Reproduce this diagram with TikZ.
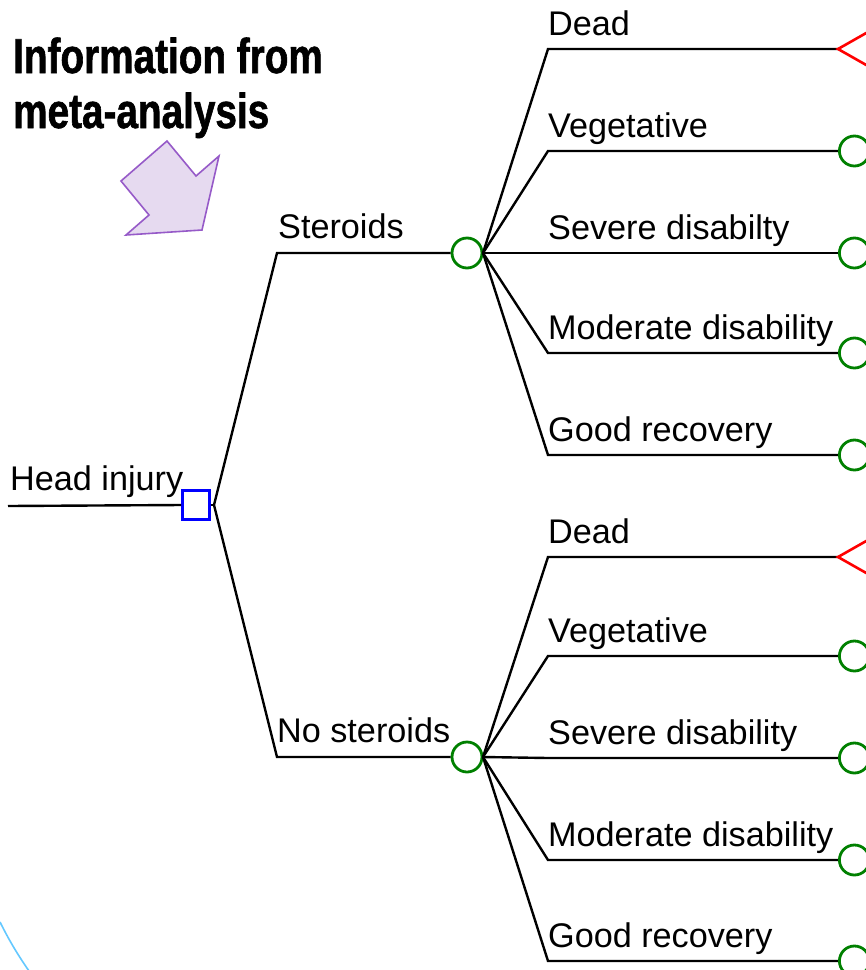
\documentclass[tikz,border=0pt]{standalone}
\usepackage{fontspec}
\setmainfont{Liberation Sans}
\newfontfamily\titlefont[FakeStretch=0.79,FakeBold=1.2]{Liberation Sans Bold}
\definecolor{chancegreen}{RGB}{0,128,0}
\definecolor{decblue}{RGB}{0,0,255}
\definecolor{termred}{RGB}{255,0,0}
\definecolor{arrowfill}{RGB}{230,218,240}
\definecolor{arrowline}{RGB}{150,90,200}
\definecolor{arccyan}{RGB}{100,200,255}
\begin{document}
\begin{tikzpicture}[x=1pt,y=-1pt,
  branch/.style={line width=2.4pt,black},
  lbl/.style={anchor=base west,inner sep=0pt,font=\fontsize{34.2}{38}\selectfont},
  chance/.style={circle,draw=chancegreen,line width=2.8pt,minimum width=28pt,minimum height=30pt,inner sep=0pt,fill=white},
  termc/.style={circle,draw=chancegreen,line width=2.8pt,minimum size=30pt,inner sep=0pt,fill=white},
  decision/.style={rectangle,draw=decblue,line width=2.6pt,minimum width=27pt,minimum height=29pt,inner sep=0pt,fill=white},
  termtri/.style={draw=termred,line width=2.6pt,fill=white}]
\useasboundingbox (0,0) rectangle (866,970);
\clip (0,0) rectangle (866,970);

% title and arrow
\node[anchor=base west,inner sep=0pt,align=left,font=\titlefont\fontsize{49}{55}\selectfont] (title) at (13,128) {Information from\\meta-analysis};
\draw[arrowline,fill=arrowfill,line width=1.6pt,line join=miter] (167,141) -- (121,181) -- (149,215) -- (126,235) -- (202,230) -- (219,156) -- (196,176) -- cycle;

% cyan arc
\draw[arccyan,line width=1.6pt] (0,922) .. controls (10,942) and (18,955) .. (29,971);

% root
\coordinate (root) at (8,506);
\node[decision] (dec) at (196,505) {};
\node[lbl] (lhead) at (10,490) {Head injury};
\coordinate (fork) at (214,505);
\draw[branch] (root) -- (dec.west);
\draw[branch] (dec.east) -- (fork);

% two arms
\coordinate (s1) at (277,253);
\coordinate (s2) at (277,757);
\node[chance] (c1) at (467,253) {};
\node[chance] (c2) at (467,757) {};
\coordinate (f1) at (483,253);
\coordinate (f2) at (483,757);
\draw[branch] (fork) -- (s1) -- (c1.west);
\draw[branch] (fork) -- (s2) -- (c2.west);
\draw[branch] (c1.east) -- (f1);
\draw[branch] (c2.east) -- (f2);
\node[lbl] (lster) at (278,238) {Steroids};
\node[lbl] (lnoster) at (277,742) {No steroids};

% outcomes, top group
\foreach \n/\y/\t in {a/49/Dead,b/151/Vegetative,c/253/Severe disabilty,d/353/Moderate disability,e/455/Good recovery}{
  \coordinate (u\n) at (548,\y);
  \coordinate (v\n) at (838,\y);
  \draw[branch] (f1) -- (u\n) -- (v\n);
  \node[lbl] (lu\n) at (548,\y-14) {\t};
}
% outcomes, bottom group
\foreach \n/\y/\t in {a/557/Dead,b/656/Vegetative,c/758/Severe disability,d/860/Moderate disability,e/961/Good recovery}{
  \coordinate (w\n) at (548,\y);
  \coordinate (z\n) at (838,\y);
  \draw[branch] (f2) -- (w\n) -- (z\n);
  \node[lbl] (lw\n) at (548,\y-14) {\t};
}

% terminals
\draw[termtri] (va) -- ++(30,-17) -- ++(0,34) -- cycle;
\draw[termtri] (za) -- ++(30,-17) -- ++(0,34) -- cycle;
\foreach \n in {b,c,d,e}{
  \node[termc,anchor=west] (tv\n) at (v\n) {};
  \node[termc,anchor=west] (tz\n) at (z\n) {};
}
\end{tikzpicture}
\end{document}
